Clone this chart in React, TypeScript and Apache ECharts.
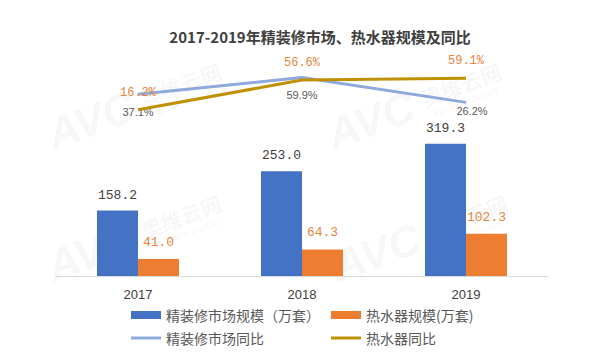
import React, { useEffect, useRef } from "react";
import * as echarts from "echarts";

const chartTitle = "2017-2019年精装修市场、热水器规模及同比";
const years = ["2017", "2018", "2019"];
const decorScale = [158.2, 253.0, 319.3];
const heaterScale = [41.0, 64.3, 102.3];
const decorYoY = [37.1, 59.9, 26.2];
const heaterYoY = [16.2, 56.6, 59.1];
const seriesNames = ["精装修市场规模（万套）", "热水器规模(万套)", "精装修市场同比", "热水器同比"];

const BLUE = "#4472C4";
const ORANGE = "#ED7D31";
const LIGHT_BLUE = "#8EA9DB";
const GOLD = "#BF9000";
const LABEL_ORANGE = "#E5843C";
const DARK = "#404040";
const LINE_ICON = "path://M0 0H30V3H0Z";

function watermark(x: number, y: number) {
  const fill = "rgba(0,0,0,0.055)";
  return {
    type: "group",
    x,
    y,
    rotation: 0.35,
    z: 0,
    silent: true,
    children: [
      {
        type: "text",
        x: 0,
        y: 0,
        style: { text: "AVC", font: "italic bold 44px 'Liberation Sans'", fill, verticalAlign: "bottom" },
      },
      {
        type: "text",
        x: 100,
        y: -14,
        style: { text: "奥维云网", font: "bold 21px 'Noto Sans CJK SC'", fill, verticalAlign: "bottom" },
      },
      {
        type: "text",
        x: 106,
        y: -2,
        style: { text: "ALL VIEW CLOUD", font: "bold 8px 'Liberation Sans'", fill, verticalAlign: "bottom" },
      },
    ],
  };
}

export default function App() {
  const ref = useRef<HTMLDivElement>(null);
  useEffect(() => {
    if (!ref.current) return;
    const chart = echarts.init(ref.current, undefined, { renderer: "svg" });
    const legendText = { fontSize: 14, color: "#595959", lineHeight: 16, fontFamily: "'Noto Sans CJK SC'" };
    // the last label of the decoration YoY line sits closer to its point (as in the reference)
    const decorYoYData = decorYoY.map((v, i) =>
      i === decorYoY.length - 1 ? { value: v, label: { distance: 3, offset: [6, 0] } } : v
    );
    chart.setOption({
      animation: false,
      backgroundColor: "#ffffff",
      title: {
        text: chartTitle,
        left: 315,
        textAlign: "center",
        top: 24,
        textStyle: { fontSize: 15, fontWeight: "bold", color: DARK, fontFamily: "'Noto Sans CJK SC'" },
      },
      graphic: [watermark(56, 156), watermark(56, 288), watermark(336, 156), watermark(342, 288)],
      legend: [
        {
          orient: "vertical",
          left: 126,
          top: 302,
          itemWidth: 30,
          itemHeight: 8,
          itemGap: 7,
          data: [
            { name: seriesNames[0], icon: "rect" },
            { name: seriesNames[2], icon: LINE_ICON, itemStyle: { borderWidth: 0 } },
          ],
          textStyle: legendText,
        },
        {
          orient: "vertical",
          left: 326,
          top: 302,
          itemWidth: 30,
          itemHeight: 8,
          itemGap: 7,
          data: [
            { name: seriesNames[1], icon: "rect" },
            { name: seriesNames[3], icon: LINE_ICON, itemStyle: { borderWidth: 0 } },
          ],
          textStyle: legendText,
        },
      ],
      grid: { left: 56, right: 52, top: 69, bottom: 79 },
      xAxis: {
        type: "category",
        data: years,
        axisTick: { show: false },
        axisLine: { lineStyle: { color: "#D9D9D9", width: 1 } },
        axisLabel: { margin: 12, fontSize: 13, color: DARK, fontFamily: "'Liberation Sans'" },
      },
      yAxis: [
        { type: "value", min: 0, max: 500, show: false, splitLine: { show: false } },
        { type: "value", min: -210, max: 71.6, show: false, splitLine: { show: false } },
      ],
      series: [
        {
          name: seriesNames[0],
          type: "bar",
          data: decorScale,
          barWidth: 41,
          barGap: "0%",
          itemStyle: { color: BLUE },
          z: 3,
          label: {
            show: true,
            position: "top",
            distance: 9,
            color: DARK,
            fontSize: 13,
            fontFamily: "'Liberation Mono'",
            formatter: (p: any) => Number(p.value).toFixed(1),
          },
        },
        {
          name: seriesNames[1],
          type: "bar",
          data: heaterScale,
          barWidth: 41,
          barGap: "0%",
          itemStyle: { color: ORANGE },
          z: 3,
          label: {
            show: true,
            position: "top",
            distance: 10,
            color: LABEL_ORANGE,
            fontSize: 13,
            fontFamily: "'Liberation Mono'",
            formatter: (p: any) => Number(p.value).toFixed(1),
          },
        },
        {
          name: seriesNames[2],
          type: "line",
          yAxisIndex: 1,
          data: decorYoYData,
          symbol: "circle",
          symbolSize: 0,
          showSymbol: true,
          lineStyle: { color: LIGHT_BLUE, width: 3 },
          itemStyle: { color: LIGHT_BLUE },
          z: 4,
          label: {
            show: true,
            position: "bottom",
            distance: 12,
            color: "#595959",
            fontSize: 11,
            fontFamily: "'Liberation Sans'",
            formatter: (p: any) => Number(p.value).toFixed(1) + "%",
          },
        },
        {
          name: seriesNames[3],
          type: "line",
          yAxisIndex: 1,
          data: heaterYoY,
          symbol: "circle",
          symbolSize: 0,
          showSymbol: true,
          lineStyle: { color: GOLD, width: 3 },
          itemStyle: { color: GOLD },
          z: 5,
          label: {
            show: true,
            position: "top",
            distance: 11,
            color: LABEL_ORANGE,
            fontSize: 12,
            fontFamily: "'Liberation Mono'",
            formatter: (p: any) => Number(p.value).toFixed(1) + "%",
          },
        },
      ],
    });
    return () => chart.dispose();
  }, []);
  return <div ref={ref} style={{ width: 600, height: 355, position: "absolute", left: 0, top: 0 }} />;
}
